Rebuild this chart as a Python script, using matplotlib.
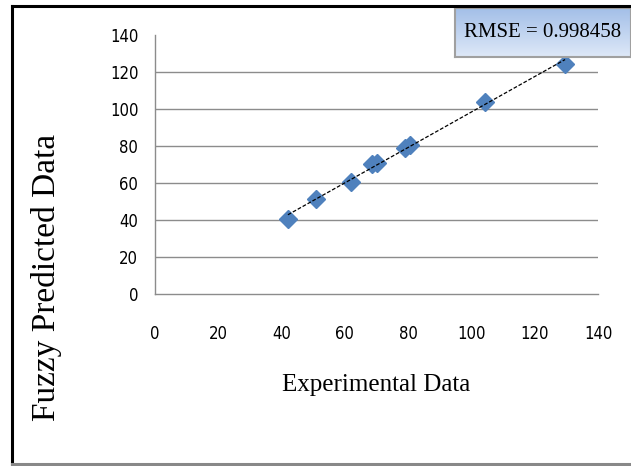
import numpy as np
import matplotlib
matplotlib.use("Agg")
import matplotlib.pyplot as plt
from matplotlib.lines import Line2D

# experimental vs fuzzy-predicted values
experimental = [42, 51, 62, 68.7, 70, 79.1, 80.7, 104.4, 129.6]
predicted = [40.7, 51.3, 60.5, 70.5, 70.8, 79.0, 80.6, 104.0, 124.5]
xticks = [0, 20, 40, 60, 80, 100, 120, 140]
yticks = [0, 20, 40, 60, 80, 100, 120, 140]
rmse_text = "RMSE = 0.998458"

W, H = 631, 466
fig = plt.figure(figsize=(W / 100, H / 100), dpi=100)

serif = ["Liberation Serif", "DejaVu Serif"]

ax = fig.add_axes([155 / W, 1 - 294 / H, 443 / W, 259 / H])
ax.set_xlim(0, 140)
ax.set_ylim(0, 140)

# horizontal grid lines, none at the top
for v in yticks[1:-1]:
    ax.axhline(v, color="#8c8c8c", lw=1, zorder=0)

for side in ["top", "right"]:
    ax.spines[side].set_visible(False)
for side in ["left", "bottom"]:
    ax.spines[side].set_color("#8c8c8c")
    ax.spines[side].set_linewidth(1)

ax.set_xticks(xticks)
ax.set_yticks(yticks)
ax.tick_params(length=0)
ax.tick_params(axis="x", pad=22)
ax.tick_params(axis="y", pad=12)
for lab in ax.get_xticklabels() + ax.get_yticklabels():
    lab.set_family("DejaVu Sans")
    lab.set_fontstretch("condensed")
    lab.set_fontsize(12)

ax.plot(experimental, predicted, linestyle="none", marker="D", ms=9,
        color="#4f81bd", zorder=3, clip_on=False)

# linear trendline across the data range
k, b = np.polyfit(experimental, predicted, 1)
xs = np.array([min(experimental), max(experimental)])
ax.plot(xs, k * xs + b, color="black", lw=0.9, ls=(0, (3, 1.5)), zorder=4,
        clip_on=False)

ax.set_xlabel("Experimental Data", family=serif, fontsize=18, labelpad=23)
fig.text(47 / W, 1 - 277 / H, "Fuzzy Predicted Data", family=serif,
         fontsize=24, rotation=90, ha="center", va="center")

# outer frame
fig.add_artist(Line2D([12 / W, 12 / W], [1 - 464 / H, 1 - 6 / H],
                      color="black", lw=2.2))
fig.add_artist(Line2D([12 / W, 1], [1 - 6 / H, 1 - 6 / H],
                      color="black", lw=2.2))
fig.add_artist(Line2D([12 / W, 1], [1 - 464 / H, 1 - 464 / H],
                      color="#888888", lw=2.2))

# RMSE label box with gradient fill
bx = fig.add_axes([455 / W, 1 - 57 / H, (W - 455) / W, 49 / H])
grad = np.linspace(0, 1, 64)[:, None]
top = np.array([0.64, 0.75, 0.91])
bot = np.array([0.87, 0.91, 0.97])
img = top + (bot - top) * grad[:, :, None]
bx.imshow(np.repeat(img, 2, axis=1), aspect="auto", extent=[0, 1, 0, 1])
bx.set_xticks([])
bx.set_yticks([])
for side in bx.spines.values():
    side.set_color("#a0a0a0")
    side.set_linewidth(1.5)
bx.text(0.5, 0.5, rmse_text, transform=bx.transAxes, ha="center",
        va="center", family=serif, fontsize=15)

fig.savefig("out.png", dpi=100)
